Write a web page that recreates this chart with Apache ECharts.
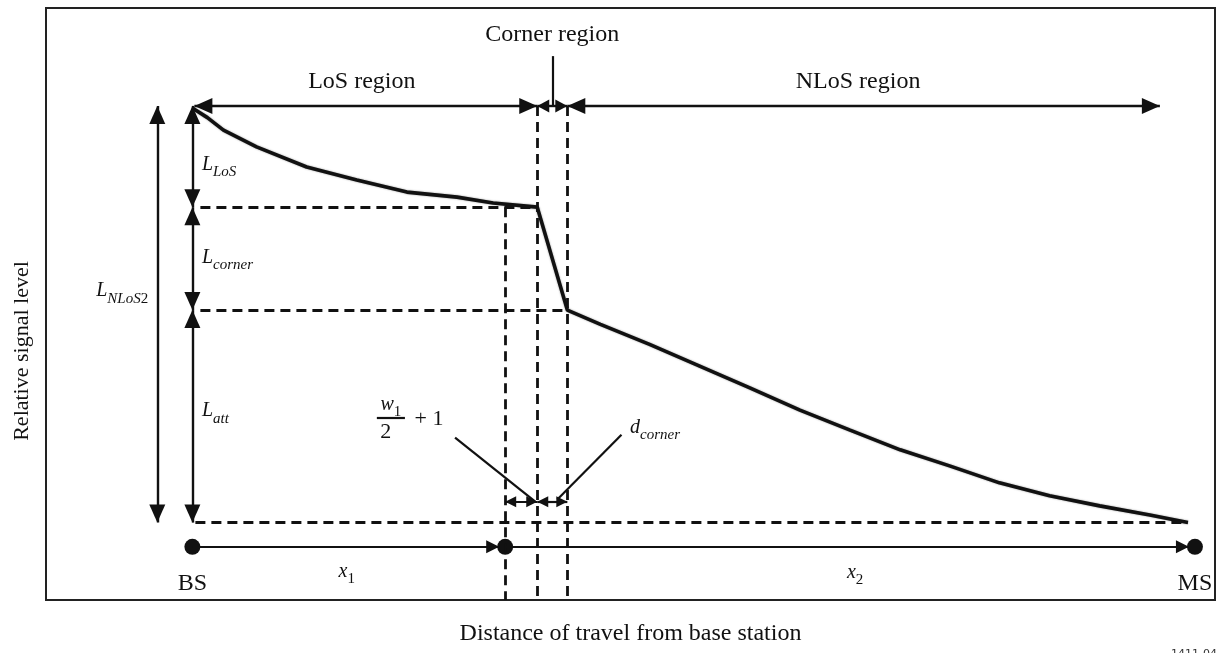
<!DOCTYPE html>
<html><head><meta charset="utf-8">
<script src="https://cdn.jsdelivr.net/npm/echarts@6/dist/echarts.min.js"></script>
<style>html,body{margin:0;padding:0;background:#fff}#c{width:1228px;height:653px}</style>
</head><body><div id="c"></div>
<script>
// ---------- data (distance units: BS = 0, MS = 100; level units: baseline = 0) ----------
const curveDist  = [0, 1.5, 3.1, 6.4, 11.4, 16.4, 21.4, 26.4, 30.0, 34.4, 37.4, 40.7, 45.6, 50.6, 55.6, 60.6, 65.6, 70.6, 75.6, 80.5, 85.5, 90.5, 95.5, 99.3];
const curveLevel = [99.1, 96.8, 93.8, 89.8, 85.0, 81.9, 79.0, 77.8, 76.4, 75.4, 50.8, 47.4, 42.6, 37.4, 32.2, 26.9, 22.1, 17.4, 13.5, 9.5, 6.4, 4.0, 1.8, 0];
const stationNames = ['BS', 'MS'];
const stationDist  = [0, 100];
const breakDist    = [31.2];          // x1 end point
const cornerDist   = [34.4, 37.4];    // corner region start / end
const nlosArrowEnd = [96.5];
const levels       = [99.6, 75.4, 50.8, 0]; // top, end of LoS, end of corner, baseline
const regionNames  = ['LoS region', 'Corner region', 'NLoS region'];
const axisNames    = ['Distance of travel from base station', 'Relative signal level'];
const figureId     = ['1411-04'];

const serif = '"Liberation Serif", "Times New Roman", serif';
const ink = '#111';
const P = (x, y) => ({ coord: [x, y] });
const seg = (a, b) => [P(a[0], a[1]), P(b[0], b[1])];

const [lTop, lLoS, lCorner, lBase] = levels;
const [c0, c1] = cornerDist;
const x1 = breakDist[0];
const yStn = -5.8;
const yBottom = -18.5;

const richSt = {
  L:  { fontFamily: serif, fontStyle: 'italic', fontSize: 20, color: ink, verticalAlign: 'top', lineHeight: 22 },
  s:  { fontFamily: serif, fontStyle: 'italic', fontSize: 15, color: ink, verticalAlign: 'top', lineHeight: 16, padding: [10, 0, 0, 0] },
  r:  { fontFamily: serif, fontSize: 15, color: ink, verticalAlign: 'top', lineHeight: 16, padding: [10, 0, 0, 0] },
  n:  { fontFamily: serif, fontSize: 22, color: ink, verticalAlign: 'top', lineHeight: 22 },
  t:  { fontFamily: serif, fontSize: 24, color: ink }
};

function txt(x, y, formatter, pos) {
  return { value: [x, y], label: { show: true, formatter: formatter, position: pos || 'inside', distance: 0, rich: richSt } };
}

const labels = [
  txt(16.9, 105.4, '{t|' + regionNames[0] + '}'),
  txt(35.9, 116.6, '{t|' + regionNames[1] + '}'),
  txt(66.4, 105.4, '{t|' + regionNames[2] + '}'),
  txt(stationDist[0], -14.6, '{t|' + stationNames[0] + '}'),
  txt(stationDist[1], -14.6, '{t|' + stationNames[1] + '}'),
  txt(15.4, -12.0, '{L|x}{r|1}'),
  txt(66.1, -12.3, '{L|x}{r|2}'),
  txt(0.9, 85.3, '{L|L}{s|LoS}', 'right'),
  txt(0.9, 63.0, '{L|L}{s|corner}', 'right'),
  txt(0.9, 26.4, '{L|L}{s|att}', 'right'),
  txt(-7.0, 55.1, '{L|L}{s|NLoS}{r|2}'),
  txt(19.8, 27.9, '{L|w}{r|1}'),
  txt(19.3, 21.6, '{n|2}'),
  txt(23.6, 24.6, '{n|+ 1}'),
  txt(43.6, 22.4, '{L|d}{s|corner}', 'right')
];

// double-headed arrows
const bigArrows = [
  seg([-3.5, lBase], [-3.5, lTop]),
  seg([0, lTop], [0, lLoS]),
  seg([0, lLoS], [0, lCorner]),
  seg([0, lCorner], [0, lBase]),
  seg([0.2, lTop], [c0, lTop]),
  seg([c1, lTop], [nlosArrowEnd[0], lTop])
];
const cornerArrow = [ seg([c0, lTop], [c1, lTop]) ];
const smallArrows = [
  seg([x1, 5.0], [c0, 5.0]),
  seg([c0, 5.0], [c1, 5.0])
];
const stationArrows = [
  seg([stationDist[0], yStn], [x1 - 0.6, yStn]),
  seg([x1, yStn], [stationDist[1] - 0.6, yStn])
];
const plainLines = [
  seg([(c0 + c1) / 2, lTop], [(c0 + c1) / 2, 111.5]),
  seg([26.2, 20.3], [34.2, 5.0]),
  seg([42.8, 21.0], [36.4, 5.5]),
  seg([18.4, 25.0], [21.2, 25.0])
];
const dashedLines = [
  seg([0.8, lLoS], [c0, lLoS]),
  seg([0.8, lCorner], [c1, lCorner]),
  seg([0.3, lBase], [curveDist[curveDist.length - 1], lBase]),
  seg([x1, lLoS], [x1, yBottom]),
  seg([c0, lTop], [c0, yBottom]),
  seg([c1, lTop], [c1, yBottom])
];

function mlSeries(data, symbol, symbolSize, lineStyle) {
  const h = Array.isArray(symbolSize) ? symbolSize[1] : symbolSize;
  return {
    type: 'line', data: [], silent: true,
    markLine: { silent: true, animation: false, symbol: symbol, symbolSize: symbolSize,
      symbolOffset: [[0, h / 2], [0, h / 2]],
      label: { show: false }, lineStyle: Object.assign({ color: ink, type: 'solid', width: 2.2 }, lineStyle || {}),
      emphasis: { disabled: true }, data: data }
  };
}

const option = {
  animation: false,
  backgroundColor: '#fff',
  title: { text: figureId[0], right: 6, top: 644, textStyle: { fontFamily: 'DejaVu Sans', fontSize: 11, fontWeight: 'normal', color: '#333' } },
  grid: { left: 46, right: 13, top: 8, bottom: 53, show: true, borderColor: '#222', borderWidth: 2, backgroundColor: 'transparent', outerBoundsMode: 'none', containLabel: false },
  xAxis: { type: 'value', min: -14.6, max: 102, axisLine: { show: false }, axisTick: { show: false }, axisLabel: { show: false }, splitLine: { show: false },
    name: axisNames[0], nameLocation: 'middle', nameGap: 22, nameTextStyle: { fontFamily: serif, fontSize: 24, color: ink } },
  yAxis: { type: 'value', min: yBottom, max: 123, axisLine: { show: false }, axisTick: { show: false }, axisLabel: { show: false }, splitLine: { show: false },
    name: axisNames[1], nameLocation: 'middle', nameRotate: 90, nameGap: 13,
    nameTextStyle: { fontFamily: serif, fontSize: 22, color: ink, padding: [0, 94, 0, 0] } },
  series: [
    mlSeries(dashedLines, ['none', 'none'], 0, { type: [10, 6], width: 2.8 }),
    mlSeries(plainLines, ['none', 'none'], 0, { width: 2.2 }),
    mlSeries(bigArrows, ['triangle', 'triangle'], [16, 18], { width: 2.4 }),
    mlSeries(cornerArrow, ['triangle', 'triangle'], [13, 12], { width: 2.4 }),
    mlSeries(smallArrows, ['triangle', 'triangle'], [11, 11], { width: 2.2 }),
    mlSeries(stationArrows, ['none', 'triangle'], [13, 13], { width: 2.2 }),
    { type: 'line', data: curveDist.map((d, i) => [d, curveLevel[i]]), showSymbol: false, silent: true,
      lineStyle: { color: ink, width: 3.6, shadowColor: 'rgba(0,0,0,0.4)', shadowBlur: 2 } },
    { type: 'scatter', silent: true, symbolSize: 16, itemStyle: { color: '#111', opacity: 1 },
      data: [[stationDist[0], yStn], [x1, yStn], [stationDist[1], yStn]] },
    { type: 'scatter', silent: true, symbolSize: 1, itemStyle: { color: 'rgba(0,0,0,0)', opacity: 1 }, data: labels }
  ]
};
echarts.init(document.getElementById('c'), null, { renderer: 'canvas' }).setOption(option);
</script>
</body></html>
